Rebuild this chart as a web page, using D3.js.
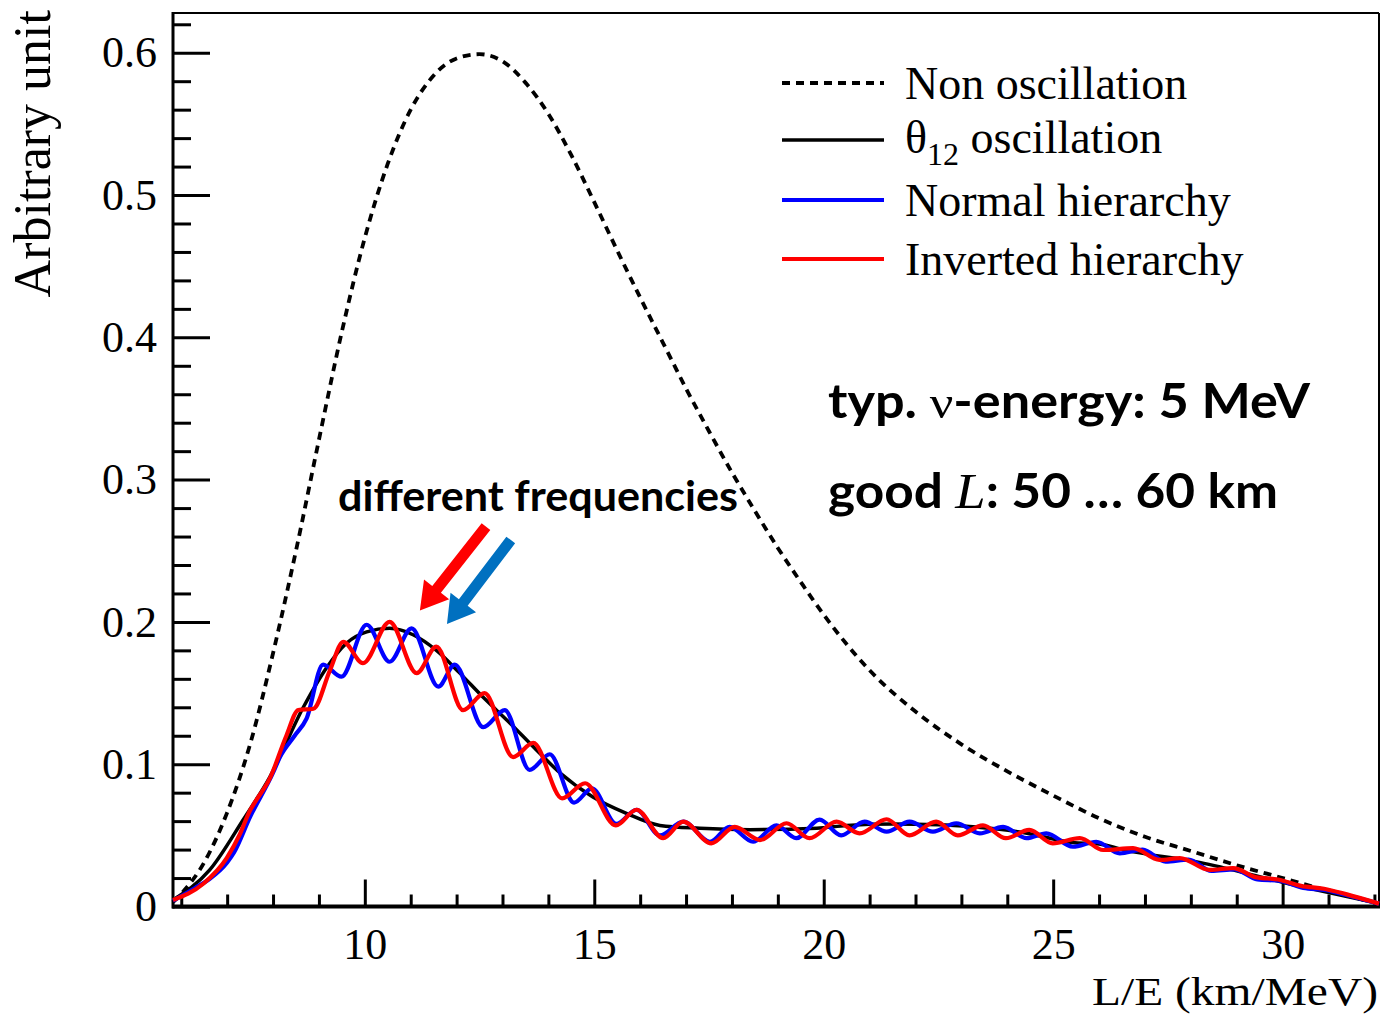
<!DOCTYPE html>
<html>
<head>
<meta charset="utf-8">
<script src="https://cdn.jsdelivr.net/npm/d3@7"></script>
<style>
  body { margin: 0; background: #fff; }
  svg { display: block; }
</style>
</head>
<body>
<div id="chart"></div>
<script>
// values (L/E in km/MeV, arbitrary unit)
const noOscX = [5.82, 6.0, 6.5, 7.0, 7.5, 8.0, 8.5, 9.0, 9.5, 10.0, 10.5, 11.0, 11.5, 12.0, 12.5, 13.0, 13.5, 14.0, 14.5, 15.0, 15.5, 16.0, 16.5, 17.0, 17.5, 18.0, 18.5, 19.0, 19.5, 20.0, 21.0, 22.0, 23.0, 24.0, 25.0, 26.0, 27.0, 28.0, 29.0, 30.0, 31.0, 32.1];
const noOscY = [0.003, 0.009, 0.031, 0.066, 0.114, 0.178, 0.250, 0.328, 0.404, 0.470, 0.522, 0.560, 0.584, 0.596, 0.599, 0.594, 0.579, 0.557, 0.528, 0.495, 0.461, 0.428, 0.396, 0.364, 0.334, 0.305, 0.278, 0.252, 0.228, 0.205, 0.166, 0.137, 0.114, 0.095, 0.078, 0.062, 0.049, 0.039, 0.029, 0.020, 0.011, 0.002];

const th12X = [5.82, 6.62, 7.35, 7.93, 8.66, 9.17, 9.60, 10.04, 10.54, 11.05, 11.56, 12.07, 12.58, 13.16, 13.74, 14.25, 14.97, 15.70, 16.43, 17.30, 18.39, 19.85, 20.5, 21.5, 22.5, 23.25, 24.34, 25.42, 26.0, 26.51, 28.19, 30.0, 32.05];
const th12Y = [0.0046, 0.0257, 0.061, 0.091, 0.140, 0.168, 0.185, 0.193, 0.1955, 0.191, 0.180, 0.164, 0.147, 0.129, 0.110, 0.094, 0.077, 0.0655, 0.057, 0.055, 0.054, 0.055, 0.057, 0.058, 0.0575, 0.056, 0.052, 0.045, 0.044, 0.040, 0.031, 0.017, 0.0025];

const normalX = [5.82, 6.3, 6.6, 7.0, 7.15, 7.5, 8.0, 8.15, 8.47, 8.73, 9.09, 9.49, 10.04, 10.54, 11.02, 11.60, 11.96, 12.58, 13.05, 13.59, 14.03, 14.56, 14.95, 15.48, 15.92, 16.43, 16.94, 17.52, 17.95, 18.46, 18.97, 19.40, 19.91, 20.38, 20.89, 21.37, 21.87, 22.38, 22.89, 23.40, 23.91, 24.42, 24.85, 25.43, 25.94, 26.45, 26.95, 27.45, 27.95, 28.45, 28.95, 29.45, 29.95, 30.45, 30.95, 31.45, 32.1];
const normalY = [0.004, 0.013, 0.019, 0.031, 0.038, 0.063, 0.094, 0.105, 0.120, 0.132, 0.170, 0.1615, 0.198, 0.172, 0.1955, 0.1545, 0.170, 0.126, 0.138, 0.096, 0.107, 0.073, 0.083, 0.058, 0.068, 0.050, 0.0596, 0.0455, 0.056, 0.0455, 0.057, 0.048, 0.061, 0.050, 0.0596, 0.0526, 0.0596, 0.0526, 0.0585, 0.0514, 0.056, 0.048, 0.0514, 0.042, 0.0455, 0.0374, 0.040, 0.0315, 0.033, 0.025, 0.026, 0.019, 0.018, 0.013, 0.0115, 0.0075, 0.002];

const invertedX = [5.82, 6.48, 6.99, 7.28, 7.49, 7.6, 7.93, 8.29, 8.55, 8.88, 9.24, 9.53, 9.96, 10.54, 11.13, 11.56, 12.14, 12.61, 13.23, 13.67, 14.3, 14.8, 15.47, 15.92, 16.50, 16.94, 17.55, 18.06, 18.61, 19.19, 19.69, 20.28, 20.78, 21.37, 21.87, 22.45, 22.92, 23.47, 23.97, 24.48, 24.99, 25.58, 26.09, 26.74, 27.32, 27.76, 28.41, 28.92, 29.43, 29.9, 30.4, 30.9, 31.4, 32.1];
const invertedY = [0.0046, 0.016, 0.034, 0.051, 0.067, 0.073, 0.090, 0.120, 0.138, 0.139, 0.166, 0.186, 0.171, 0.200, 0.164, 0.1826, 0.138, 0.150, 0.105, 0.115, 0.076, 0.0866, 0.057, 0.068, 0.048, 0.0596, 0.0444, 0.056, 0.0467, 0.0585, 0.048, 0.0596, 0.0514, 0.0613, 0.050, 0.0596, 0.050, 0.057, 0.048, 0.0538, 0.0444, 0.048, 0.0397, 0.041, 0.0327, 0.034, 0.0257, 0.027, 0.0205, 0.019, 0.0145, 0.0125, 0.0085, 0.002];

const xMajor = [10, 15, 20, 25, 30];
const yMajor = [0, 0.1, 0.2, 0.3, 0.4, 0.5, 0.6];
const legendLabels = ["Non oscillation", "θ12 oscillation", "Normal hierarchy", "Inverted hierarchy"];

const width = 1382, height = 1018;
const serif = "'Liberation Serif', 'Times New Roman', serif";
const sans = "Lato, 'Open Sans', sans-serif";

const svg = d3.select("#chart").append("svg")
    .attr("width", width)
    .attr("height", height);

const x = d3.scaleLinear().domain([5.82, 32.1]).range([173, 1379]);
const y = d3.scaleLinear().domain([0, 0.628]).range([906.5, 12.9]);

const xMinor = d3.range(6, 33).filter(v => !xMajor.includes(v));
const yMinor = d3.range(0, 0.63, 0.02).filter(v => !yMajor.some(m => Math.abs(m - v) < 1e-6));

// minor ticks
svg.append("g")
    .attr("transform", `translate(0,${y(0)})`)
    .call(d3.axisBottom(x).tickValues(xMinor).tickSize(-12).tickFormat(""))
    .call(g => g.select(".domain").remove())
    .call(g => g.selectAll("line").attr("stroke-width", 3));
svg.append("g")
    .attr("transform", `translate(${x.range()[0]},0)`)
    .call(d3.axisLeft(y).tickValues(yMinor).tickSize(-18).tickFormat(""))
    .call(g => g.select(".domain").remove())
    .call(g => g.selectAll("line").attr("stroke-width", 3));

// major ticks + labels
svg.append("g")
    .attr("transform", `translate(0,${y(0)})`)
    .call(d3.axisBottom(x).tickValues(xMajor).tickSize(-27).tickPadding(21))
    .call(g => g.select(".domain").remove())
    .call(g => g.selectAll("line").attr("stroke-width", 3))
    .call(g => g.selectAll("text").attr("font-family", serif).attr("font-size", 44).attr("fill", "#000"));
svg.append("g")
    .attr("transform", `translate(${x.range()[0]},0)`)
    .call(d3.axisLeft(y).tickValues(yMajor).tickSize(-37).tickPadding(16)
        .tickFormat(d => d === 0 ? "0" : d3.format(".1f")(d)))
    .call(g => g.select(".domain").remove())
    .call(g => g.selectAll("line").attr("stroke-width", 3))
    .call(g => g.selectAll("text").attr("font-family", serif).attr("font-size", 44).attr("fill", "#000"));

// frame
const [x0, x1] = x.range();
const [yb, yt] = y.range();
svg.append("line").attr("x1", x0).attr("x2", x1).attr("y1", yt).attr("y2", yt).attr("stroke", "#000").attr("stroke-width", 2);
svg.append("line").attr("x1", x1).attr("x2", x1).attr("y1", yt).attr("y2", yb).attr("stroke", "#000").attr("stroke-width", 2);
svg.append("line").attr("x1", x0).attr("x2", x0).attr("y1", yt - 1).attr("y2", yb + 2).attr("stroke", "#000").attr("stroke-width", 3);
svg.append("line").attr("x1", x0 - 1).attr("x2", x1 + 1).attr("y1", yb).attr("y2", yb).attr("stroke", "#000").attr("stroke-width", 4);

// curves
const series = [
  { xs: noOscX, ys: noOscY, color: "#000", w: 3.8, dash: "8,6" },
  { xs: th12X, ys: th12Y, color: "#000", w: 3.5, dash: null },
  { xs: normalX, ys: normalY, color: "#0000ff", w: 4.2, dash: null },
  { xs: invertedX, ys: invertedY, color: "#ff0000", w: 4.2, dash: null }
];

const line = d3.line()
    .x(d => x(d[0]))
    .y(d => y(d[1]))
    .curve(d3.curveMonotoneX);

const plot = svg.append("g");
series.forEach(s => {
  plot.append("path")
      .datum(s.xs.map((v, i) => [v, s.ys[i]]))
      .attr("fill", "none")
      .attr("stroke", s.color)
      .attr("stroke-width", s.w)
      .attr("stroke-dasharray", s.dash)
      .attr("stroke-linejoin", "round")
      .attr("d", line);
});

// axis titles
svg.append("text")
    .attr("x", 1378).attr("y", 1005)
    .attr("text-anchor", "end")
    .attr("font-family", serif).attr("font-size", 40)
    .attr("textLength", 286).attr("lengthAdjust", "spacingAndGlyphs")
    .text("L/E (km/MeV)");
svg.append("text")
    .attr("transform", "translate(50,10) rotate(-90)")
    .attr("text-anchor", "end")
    .attr("font-family", serif).attr("font-size", 52)
    .text("Arbitrary unit");

// legend
const legendY = [83, 140, 200, 259];
const legend = svg.append("g");
series.forEach((s, i) => {
  legend.append("line")
      .attr("x1", 782).attr("x2", 884)
      .attr("y1", legendY[i]).attr("y2", legendY[i])
      .attr("stroke", s.color)
      .attr("stroke-width", s.w)
      .attr("stroke-dasharray", s.dash);
  const t = legend.append("text")
      .attr("x", 905).attr("y", legendY[i] + (i === 1 ? 13 : 16))
      .attr("font-family", serif).attr("font-size", 46);
  if (i === 1) {
    t.append("tspan").text("θ");
    t.append("tspan").attr("font-size", 32).attr("dy", 12).text("12");
    t.append("tspan").attr("dy", -12).text(" oscillation");
  } else {
    t.text(legendLabels[i]);
  }
});

// annotations
const a1 = svg.append("text")
    .attr("x", 828).attr("y", 418)
    .attr("font-family", sans).attr("font-weight", "bold").attr("font-size", 47)
    .attr("textLength", 482).attr("lengthAdjust", "spacingAndGlyphs");
a1.append("tspan").text("typ. ");
a1.append("tspan").attr("font-family", serif).attr("font-weight", "normal").text("ν");
a1.append("tspan").text("-energy: 5 MeV");

const a2 = svg.append("text")
    .attr("x", 828).attr("y", 508)
    .attr("font-family", sans).attr("font-weight", "bold").attr("font-size", 47)
    .attr("textLength", 450).attr("lengthAdjust", "spacingAndGlyphs");
a2.append("tspan").text("good ");
a2.append("tspan").attr("font-family", serif).attr("font-style", "italic").attr("font-weight", "normal").attr("font-size", 50).text("L");
a2.append("tspan").text(": 50 … 60 km");

svg.append("text")
    .attr("x", 338).attr("y", 511)
    .attr("font-family", sans).attr("font-weight", "bold").attr("font-size", 42)
    .attr("textLength", 400).attr("lengthAdjust", "spacingAndGlyphs")
    .text("different frequencies");

// arrows, positioned in data units
function arrow(tail, tip, color) {
  const [tx, ty] = [x(tail[0]), y(tail[1])];
  const [hx, hy] = [x(tip[0]), y(tip[1])];
  const len = Math.hypot(hx - tx, hy - ty);
  const ux = (hx - tx) / len, uy = (hy - ty) / len;
  const nx = -uy, ny = ux;
  const sw = 5.5, hw = 16, hl = 27;
  const bx = hx - ux * hl, by = hy - uy * hl;
  const pts = [
    [tx + nx * sw, ty + ny * sw],
    [bx + nx * sw, by + ny * sw],
    [bx + nx * hw, by + ny * hw],
    [hx, hy],
    [bx - nx * hw, by - ny * hw],
    [bx - nx * sw, by - ny * sw],
    [tx - nx * sw, ty - ny * sw]
  ];
  svg.append("polygon")
      .attr("points", pts.map(p => p.join(",")).join(" "))
      .attr("fill", color);
}
arrow([12.64, 0.267], [11.20, 0.208], "#ff0000");
arrow([13.18, 0.2576], [11.79, 0.1985], "#0070c0");
</script>
</body>
</html>
